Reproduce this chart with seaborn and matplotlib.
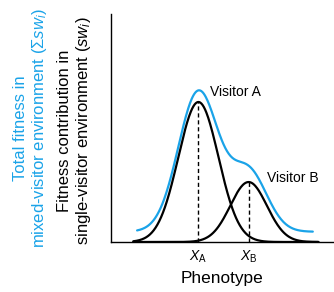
import numpy as np
import pandas as pd
import matplotlib
matplotlib.use("Agg")
import matplotlib.pyplot as plt
import seaborn as sns

# schematic fitness peaks (phenotype units 0-10, fitness 0-1)
visitors = ["Visitor A", "Visitor B"]
peak_pos = [3.92, 6.17]
peak_height = [0.614, 0.263]
peak_width = [0.90, 0.82]
total_offset = 0.045
x_ticks = [3.92, 6.17]
x_ticklabels = [r"$\mathit{X}_\mathrm{A}$", r"$\mathit{X}_\mathrm{B}$"]

blue = "#1aa3e8"

sns.set_theme(style="white")
plt.rcParams["font.family"] = ["Liberation Sans", "DejaVu Sans"]
plt.rcParams["mathtext.fontset"] = "custom"
plt.rcParams["mathtext.rm"] = "Liberation Sans"
plt.rcParams["mathtext.it"] = "Liberation Sans:italic"

x = np.linspace(1.0, 9.3, 300)
curves = []
for name, m, h, s in zip(visitors, peak_pos, peak_height, peak_width):
    curves.append(pd.DataFrame({"x": x, "y": h * np.exp(-(x - m) ** 2 / (2 * s ** 2)), "who": name}))
df = pd.concat(curves)

xt = np.linspace(1.17, 9.05, 300)
tot = total_offset + sum(h * np.exp(-(xt - m) ** 2 / (2 * s ** 2))
                         for m, h, s in zip(peak_pos, peak_height, peak_width))
df_tot = pd.DataFrame({"x": xt, "y": tot})

fig = plt.figure(figsize=(3.34, 2.92), dpi=100)
ax = fig.add_axes([111 / 334, 50 / 292, 223 / 334, 228 / 292])

sns.lineplot(data=df_tot, x="x", y="y", color=blue, lw=1.6, ax=ax)
sns.lineplot(data=df, x="x", y="y", units="who", estimator=None, color="black", lw=1.6, ax=ax)

for m, h in zip(peak_pos, peak_height):
    ax.plot([m, m], [0, h], color="black", lw=1, ls=(0, (3, 2)))

ax.text(4.45, 0.66, "Visitor A", fontsize=10, va="center", ha="left", color="black")
ax.text(7.0, 0.28, "Visitor B", fontsize=10, va="center", ha="left", color="black")

ax.set_xlim(0, 10)
ax.set_ylim(0, 1)
ax.set_xticks(x_ticks)
ax.set_xticklabels(x_ticklabels, fontsize=10)
ax.set_yticks([])
ax.tick_params(axis="x", direction="out", length=3, width=0.8, pad=2, colors="black")
ax.tick_params(axis="x", labelcolor="black")
for side in ["top", "right"]:
    ax.spines[side].set_visible(False)
for side in ["left", "bottom"]:
    ax.spines[side].set_color("black")
    ax.spines[side].set_linewidth(1.0)

ax.set_xlabel("Phenotype", fontsize=12.4, labelpad=4, color="black")
ax.set_ylabel("")

fig.text(75 / 334, 1 - 131 / 292,
         "Fitness contribution in\nsingle-visitor environment ($\\mathit{sw}_i$)",
         rotation=90, ha="center", va="center", fontsize=12, color="black", linespacing=1.1)
fig.text(31 / 334, 1 - 128 / 292,
         "Total fitness in\nmixed-visitor environment ($\\Sigma\\mathit{sw}_i$)",
         rotation=90, ha="center", va="center", fontsize=12, color=blue, linespacing=1.1)

fig.savefig("out.png", dpi=100)
